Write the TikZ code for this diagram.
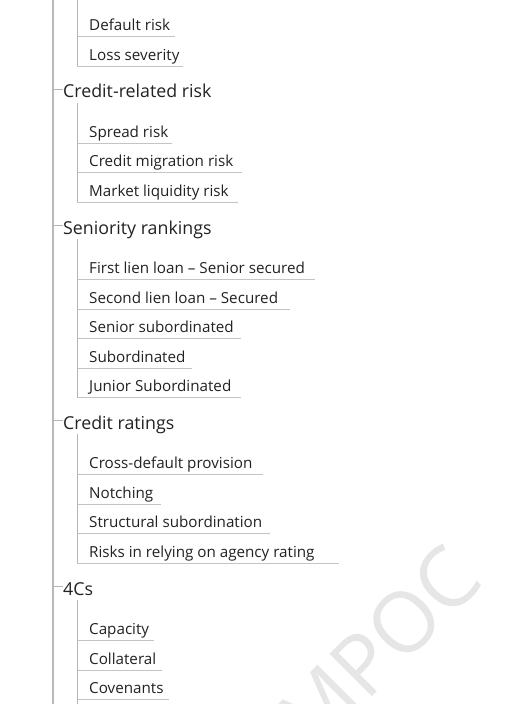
\documentclass[tikz,border=0pt]{standalone}
\usepackage{fontspec}
\setmainfont{Open Sans}
\definecolor{txt}{HTML}{222222}
\definecolor{mainln}{HTML}{B8B8B8}
\definecolor{subln}{HTML}{B4B4B4}
\definecolor{uln}{HTML}{C4C4C4}
\definecolor{wm}{HTML}{E6E6E6}
\tikzset{
  heading/.style={anchor=base west, inner sep=0pt, text=txt, font=\fontsize{17.8}{20}\selectfont},
  item/.style={anchor=base west, inner sep=0pt, text=txt, font=\fontsize{15.2}{18}\selectfont},
  mainline/.style={draw=mainln, line width=1.8pt},
  tick/.style={draw=subln, line width=0.8pt},
  subline/.style={draw=subln, line width=0.9pt},
  uline/.style={draw=uln, line width=1pt},
}
\begin{document}
\begin{tikzpicture}[x=1pt, y=-1pt]
\useasboundingbox (0,0) rectangle (512,704);
\clip (0,0) rectangle (512,704);
\fill[white] (0,0) rectangle (512,704);
% watermark
\node[rotate=45, text=wm, inner sep=0pt, font=\fontsize{84}{84}\selectfont] (wm) at (378,648) {MPOC};
% main trunk
\coordinate (top) at (53,0);
\coordinate (bot) at (53,704);
\draw[mainline] (top) -- (bot);
% first (continued) group
\coordinate (g0s) at (77,0);
\node[item] (g0a) at (89,30.5) {Default risk};
\node[item] (g0b) at (89,60.5) {Loss severity};
\coordinate (g0au) at (77,36); \coordinate (g0ae) at (175,36);
\coordinate (g0bu) at (77,66); \coordinate (g0be) at (183,66);
\draw[uline] (g0au) -- (g0ae);
\draw[uline] (g0bu) -- (g0be);
\draw[subline] (g0s) -- (g0bu);
% headings
\foreach \n/\y/\t in {h1/97.5/Credit-related risk, h2/234/Seniority rankings, h3/429.3/Credit ratings, h4/595/4Cs}{
  \node[heading] (\n) at (63,\y) {\t};
  \coordinate (\n t) at (53,\y-8.5);
  \coordinate (\n s) at (77,\y+5);
  \draw[tick] (\n t) -- (\n.west |- \n t);
}
% items: group / name / underline y / end x / text
\foreach \g/\n/\u/\e/\t in {
  h1/a1/143/172/Spread risk,
  h1/a2/172/242/Credit migration risk,
  h1/a3/202/238/Market liquidity risk,
  h2/b1/279/315/First lien loan – Senior secured,
  h2/b2/309/290/Second lien loan – Secured,
  h2/b3/338/241/Senior subordinated,
  h2/b4/368/192/Subordinated,
  h2/b5/397/241/Junior Subordinated,
  h3/c1/474/263/Cross-default provision,
  h3/c2/504/161/Notching,
  h3/c3/533/270/Structural subordination,
  h3/c4/563/339/Risks in relying on agency rating,
  h4/d1/640/154/Capacity,
  h4/d2/670/162/Collateral,
  h4/d3/699/169/Covenants}{
  \node[item] (\n) at (89,\u-5.5) {\t};
  \coordinate (\n u) at (77,\u);
  \coordinate (\n e) at (\e,\u);
  \draw[uline] (\n u) -- (\n e);
}
\draw[subline] (h1s) -- (a3u);
\draw[subline] (h2s) -- (b5u);
\draw[subline] (h3s) -- (c4u);
\coordinate (h4end) at (77,704);
\draw[subline] (h4s) -- (h4end);
\end{tikzpicture}
\end{document}
